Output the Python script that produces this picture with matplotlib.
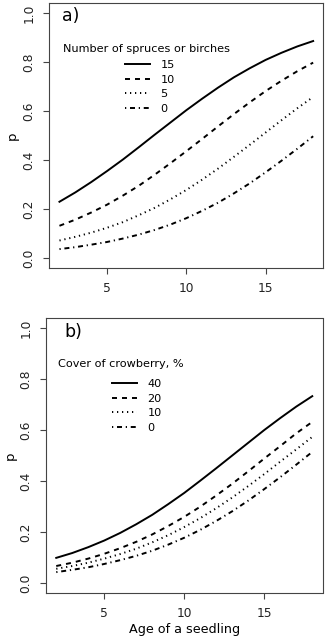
import numpy as np
import matplotlib
matplotlib.use("Agg")
import matplotlib.pyplot as plt

# age of a seedling
age = list(range(2, 19))

# panel a) number of spruces or birches
trees_labels = ["15", "10", "5", "0"]
p_trees_15 = [0.230, 0.268, 0.310, 0.355, 0.402, 0.452, 0.503, 0.553, 0.603,
              0.650, 0.695, 0.737, 0.774, 0.808, 0.837, 0.863, 0.885]
p_trees_10 = [0.132, 0.157, 0.186, 0.218, 0.255, 0.295, 0.340, 0.387, 0.436,
              0.486, 0.537, 0.587, 0.635, 0.681, 0.723, 0.762, 0.797]
p_trees_5 = [0.072, 0.087, 0.104, 0.124, 0.147, 0.175, 0.205, 0.240, 0.278,
             0.320, 0.365, 0.413, 0.462, 0.512, 0.562, 0.611, 0.657]
p_trees_0 = [0.037, 0.045, 0.055, 0.066, 0.080, 0.096, 0.115, 0.137, 0.163,
             0.193, 0.226, 0.264, 0.305, 0.350, 0.397, 0.446, 0.497]

# panel b) cover of crowberry, %
crow_labels = ["40", "20", "10", "0"]
p_crow_40 = [0.098, 0.117, 0.140, 0.166, 0.196, 0.230, 0.267, 0.309, 0.353,
             0.401, 0.450, 0.500, 0.550, 0.600, 0.647, 0.692, 0.733]
p_crow_20 = [0.066, 0.079, 0.095, 0.114, 0.136, 0.161, 0.190, 0.223, 0.259,
             0.299, 0.343, 0.389, 0.438, 0.488, 0.537, 0.587, 0.632]
p_crow_10 = [0.055, 0.066, 0.079, 0.095, 0.113, 0.134, 0.159, 0.187, 0.219,
             0.254, 0.293, 0.335, 0.380, 0.427, 0.476, 0.524, 0.573]
p_crow_0 = [0.042, 0.051, 0.061, 0.074, 0.089, 0.106, 0.126, 0.150, 0.177,
            0.208, 0.243, 0.281, 0.323, 0.368, 0.415, 0.464, 0.514]

lw = 1.4
styles = ["-", (0, (2.57, 2.57)), (0, (0.64, 1.93)), (0, (0.64, 1.93, 2.57, 1.93))]
leg_fs = 8.1

plt.rcParams['font.family'] = ['DejaVu Sans']

fig = plt.figure(figsize=(3.25, 6.39), dpi=100)
ax_a = fig.add_axes([49.3 / 325, 1 - 268 / 639, 274 / 325, 265 / 639])
ax_b = fig.add_axes([46 / 325, 1 - 593 / 639, 276.5 / 325, 275 / 639])


def setup(ax):
    ax.set_xlim(1.36, 18.64)
    ax.set_ylim(-0.04, 1.04)
    ax.set_xticks([5, 10, 15])
    ax.set_yticks([0, 0.2, 0.4, 0.6, 0.8, 1.0])
    ax.set_yticklabels(["0.0", "0.2", "0.4", "0.6", "0.8", "1.0"])
    ax.tick_params(direction="out", length=4.3, width=0.8, color="#444444",
                   labelsize=8.8, pad=5.5, labelcolor="#222222")
    for lab in ax.get_yticklabels():
        lab.set_rotation(90)
        lab.set_va("center")
    for s in ax.spines.values():
        s.set_color("#444444")
        s.set_linewidth(0.8)


# panel a
setup(ax_a)
for ys, ls, lab in zip([p_trees_15, p_trees_10, p_trees_5, p_trees_0], styles, trees_labels):
    ax_a.plot(age, ys, color="black", lw=lw, linestyle=ls, label=lab)
ax_a.text(0.045, 0.932, "a)", transform=ax_a.transAxes, fontsize=12.5, va="baseline")
ax_a.text(0.049, 0.816, "Number of spruces or birches", transform=ax_a.transAxes,
          fontsize=leg_fs, va="baseline")
ax_a.legend(loc="upper left", bbox_to_anchor=(0.276, 0.785), frameon=False,
            fontsize=leg_fs, borderpad=0, borderaxespad=0, handlelength=2.2,
            handletextpad=0.95, labelspacing=0.42)
ax_a.text(-0.136, 0.5, "p", transform=ax_a.transAxes, fontsize=9.5,
          rotation=90, ha="center", va="center")

# panel b
setup(ax_b)
for ys, ls, lab in zip([p_crow_40, p_crow_20, p_crow_10, p_crow_0], styles, crow_labels):
    ax_b.plot(age, ys, color="black", lw=lw, linestyle=ls, label=lab)
ax_b.text(0.065, 0.932, "b)", transform=ax_b.transAxes, fontsize=12.5, va="baseline")
ax_b.text(0.0445, 0.823, "Cover of crowberry, %", transform=ax_b.transAxes,
          fontsize=leg_fs, va="baseline")
ax_b.legend(loc="upper left", bbox_to_anchor=(0.239, 0.779), frameon=False,
            fontsize=leg_fs, borderpad=0, borderaxespad=0, handlelength=2.2,
            handletextpad=0.95, labelspacing=0.42)
ax_b.text(-0.13, 0.5, "p", transform=ax_b.transAxes, fontsize=9.5,
          rotation=90, ha="center", va="center")
ax_b.text(0.5, -0.133, "Age of a seedling", transform=ax_b.transAxes, fontsize=9.2,
          ha="center", va="center")

fig.savefig("out.png", dpi=100)
